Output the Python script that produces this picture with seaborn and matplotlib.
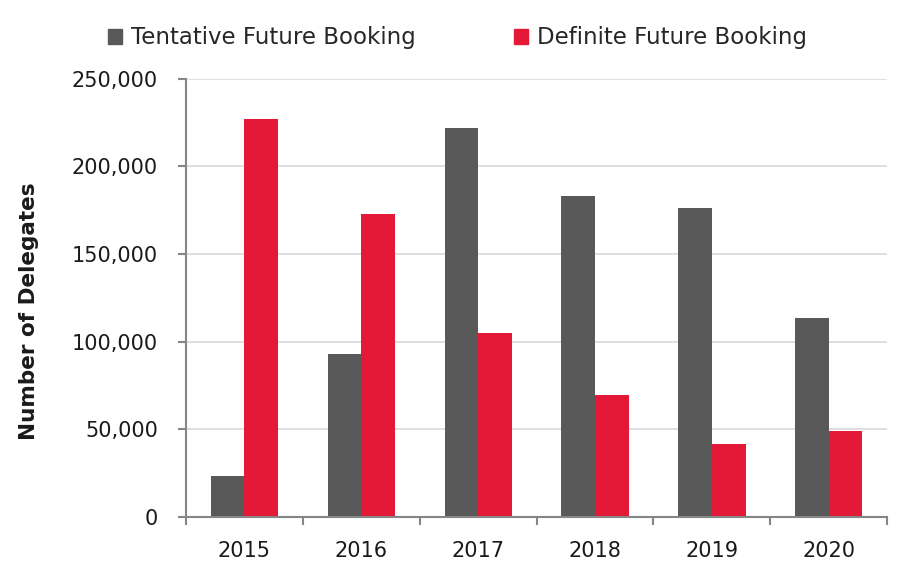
import matplotlib
matplotlib.use("Agg")
import matplotlib.pyplot as plt
import numpy as np
import pandas as pd
import seaborn as sns
from matplotlib.ticker import FuncFormatter, FixedLocator

years = ["2015", "2016", "2017", "2018", "2019", "2020"]
tentative = [23400, 93000, 222000, 183200, 176400, 113600]
definite = [227200, 173000, 105000, 69600, 41700, 49100]
series_names = ["Tentative Future Booking", "Definite Future Booking"]
colors = ["#595959", "#E31937"]

df = pd.DataFrame({
    "Year": years * 2,
    "Delegates": tentative + definite,
    "Booking": [series_names[0]] * len(years) + [series_names[1]] * len(years),
})

sns.set_theme(style="white")
plt.rcParams["font.family"] = ["DejaVu Sans"]

fig = plt.figure(figsize=(9.11, 5.75), dpi=100)
ax = fig.add_axes([0.204, 0.101, 0.770, 0.762])

sns.barplot(data=df, x="Year", y="Delegates", hue="Booking",
            palette=colors, width=0.575, gap=0, saturation=1,
            linewidth=0, ax=ax, legend=False)

ax.set_ylim(0, 250000)
ax.set_xlim(-0.5, len(years) - 0.5)
ax.yaxis.set_major_locator(FixedLocator(np.arange(0, 250001, 50000)))
ax.yaxis.set_major_formatter(FuncFormatter(lambda v, p: f"{int(v):,}"))
ax.grid(axis="y", color="#d9d9d9", linewidth=1.2)
ax.set_axisbelow(True)

for side in ["top", "right"]:
    ax.spines[side].set_visible(False)
for side in ["left", "bottom"]:
    ax.spines[side].set_color("#868686")
    ax.spines[side].set_linewidth(1.5)

ax.tick_params(axis="y", left=True, length=6, width=1.5, color="#868686",
               labelsize=15, labelcolor="#1a1a1a", pad=14)
ax.tick_params(axis="x", bottom=False, labelsize=15, labelcolor="#1a1a1a", pad=11)
ax.xaxis.set_minor_locator(FixedLocator(np.arange(-0.5, len(years), 1.0)))
ax.tick_params(axis="x", which="minor", bottom=True, length=6, width=1.5,
               color="#868686")

ax.set_xlabel("")
ax.set_ylabel("Number of Delegates", fontsize=15.5, fontweight="bold",
              color="#1a1a1a")
ax.yaxis.set_label_coords(-0.21, 0.47)

handles = [plt.Rectangle((0, 0), 1, 1, color=c) for c in colors]
fig.legend(handles, series_names, loc="center", bbox_to_anchor=(0.502, 0.934),
           ncol=2, frameon=False, fontsize=16.5, handlelength=0.6,
           handleheight=0.6, handletextpad=0.4, columnspacing=4.3)

fig.savefig("out.png", dpi=100)
